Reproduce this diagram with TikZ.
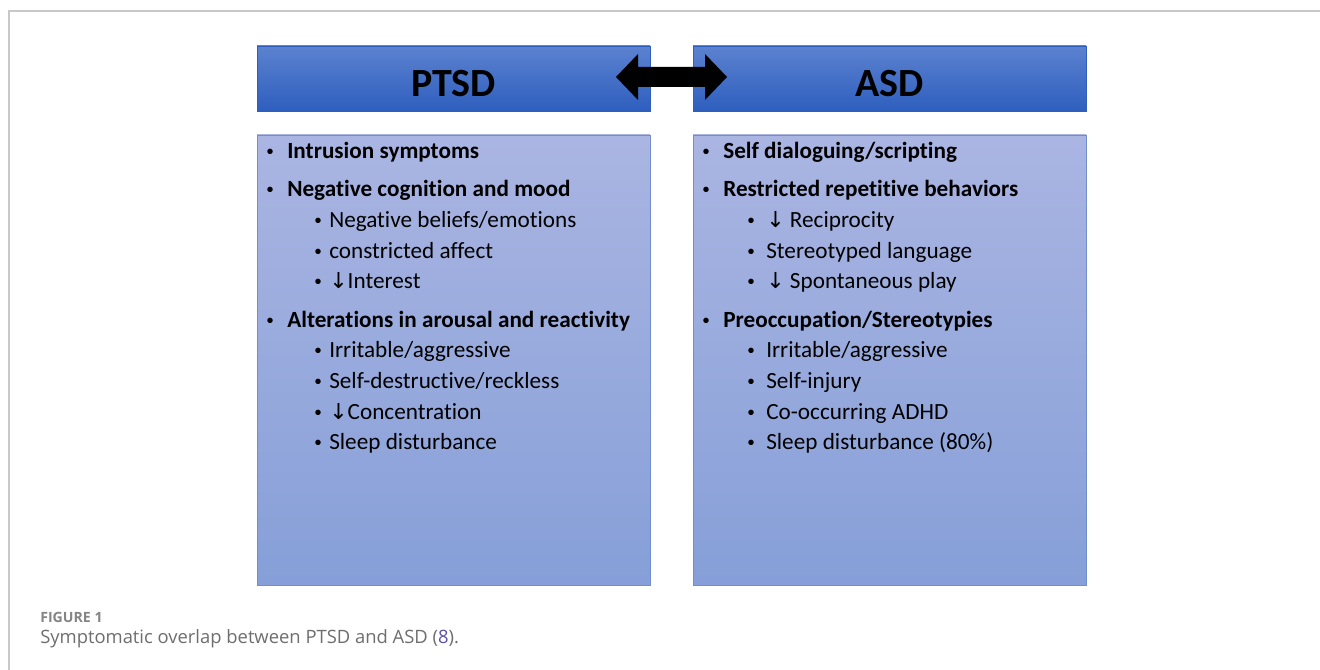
\documentclass[tikz,border=0pt]{standalone}
\usepackage{fontspec}
\setmainfont{Carlito}[Ligatures=NoCommon]
\newfontfamily\arrfont{DejaVu Sans}
\newfontfamily\bulfont{Liberation Sans}
\newfontfamily\capfont{Open Sans}
\definecolor{hdtop}{RGB}{92,130,208}
\definecolor{hdbot}{RGB}{46,94,190}
\definecolor{bdtop}{RGB}{170,181,226}
\definecolor{bdbot}{RGB}{134,159,216}
\definecolor{bdline}{RGB}{112,142,206}
\definecolor{frame}{RGB}{200,200,200}
\definecolor{capgray}{RGB}{110,110,110}
\definecolor{reflink}{RGB}{90,80,170}
\newcommand{\dn}{{\arrfont\fontsize{16.5pt}{18pt}\selectfont\mdseries ↓}}
\tikzset{
  header/.style={draw=hdbot, line width=0.4pt, top color=hdtop, bottom color=hdbot},
  htext/.style={inner sep=0pt, font=\fontsize{30pt}{34pt}\selectfont\bfseries, text=black},
  body/.style={draw=bdline, line width=0.6pt, top color=bdtop, bottom color=bdbot},
  main/.style={anchor=base west, inner sep=0pt, font=\fontsize{17.4pt}{20pt}\selectfont\bfseries},
  sub/.style={anchor=base west, inner sep=0pt, font=\fontsize{17.4pt}{20pt}\selectfont},
  bul/.style={anchor=base, inner sep=0pt, font=\bulfont\fontsize{15pt}{18pt}\selectfont},
}
\begin{document}
\begin{tikzpicture}[x=0.75pt,y=-0.75pt]
\useasboundingbox (0,0) rectangle (1320,670);
\fill[white] (0,0) rectangle (1320,670);
\draw[frame, line width=1.2pt] (9,670) -- (9,11) -- (1320,11);

% headers
\path[header] (257,46) rectangle (650,111);
\path[header] (693,46) rectangle (1086,111);
\node[htext] (hp) at (453.5,84) {PTSD};
\node[htext] (ha) at (889.5,84) {ASD};

% double arrow
\fill[black] (616,77) -- (638,54) -- (638,67) -- (705,67) -- (705,54) -- (727,77)
  -- (705,100) -- (705,87) -- (638,87) -- (638,100) -- cycle;

% bodies
\path[body] (257,135) rectangle (650,585);
\path[body] (693,135) rectangle (1086,585);

% PTSD list
\foreach \y in {159,197,327} { \node[bul] at (270,\y) {•}; }
\foreach \y in {228,258,288,357,388,419,449} { \node[bul] at (318,\y) {•}; }
\node[main] (p1) at (287,159) {Intrusion symptoms};
\node[main] (p2) at (287,197) {Negative cognition and mood};
\node[sub] (p21) at (329,228) {Negative beliefs/emotions};
\node[sub] (p22) at (329,258) {constricted affect};
\node[sub] (p23) at (329,288) {\dn Interest};
\node[main] (p3) at (287,327) {Alterations in arousal and reactivity};
\node[sub] (p31) at (329,357) {Irritable/aggressive};
\node[sub] (p32) at (329,388) {Self-destructive/reckless};
\node[sub] (p33) at (329,419) {\dn Concentration};
\node[sub] (p34) at (329,449) {Sleep disturbance};

% ASD list
\foreach \y in {159,197,327} { \node[bul] at (706,\y) {•}; }
\foreach \y in {228,258,288,357,388,419,449} { \node[bul] at (751,\y) {•}; }
\node[main] (a1) at (723,159) {Self dialoguing/scripting};
\node[main] (a2) at (723,197) {Restricted repetitive behaviors};
\node[sub] (a21) at (766,228) {\dn\ Reciprocity};
\node[sub] (a22) at (766,258) {Stereotyped language};
\node[sub] (a23) at (766,288) {\dn\ Spontaneous play};
\node[main] (a3) at (723,327) {Preoccupation/Stereotypies};
\node[sub] (a31) at (766,357) {Irritable/aggressive};
\node[sub] (a32) at (766,388) {Self-injury};
\node[sub] (a33) at (766,419) {Co-occurring ADHD};
\node[sub] (a34) at (766,449) {Sleep disturbance (80\%)};

% caption
\node[anchor=base west, inner sep=0pt, text=capgray!85, font=\capfont\fontsize{10.6pt}{12pt}\selectfont\bfseries] (cap1) at (40,622) {FIGURE 1};
\node[anchor=base west, inner sep=0pt, text=capgray, font=\capfont\fontsize{13.8pt}{16pt}\selectfont] (cap2) at (40,643) {Symptomatic overlap between PTSD and ASD (\textcolor{reflink}{8}).};
\end{tikzpicture}
\end{document}
